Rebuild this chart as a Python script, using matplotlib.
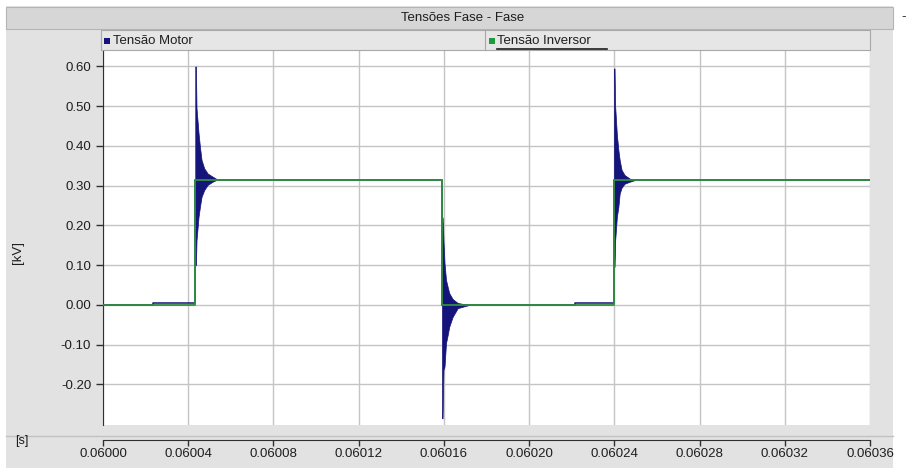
import numpy as np
import matplotlib.pyplot as plt
from matplotlib.patches import Rectangle
from matplotlib.lines import Line2D

# ---- data ----
# inverter voltage, piecewise constant [s], [kV]
inv_t = [0.06000, 0.0600433, 0.0601591, 0.0602398, 0.06036]
inv_v = [0.0, 0.314, 0.0, 0.314, 0.314]

# motor voltage, steady part
mot_t = [0.06000, 0.0600235, 0.0600433, 0.0601591, 0.0602215, 0.0602398, 0.06036]
mot_v = [0.0, 0.004, 0.314, 0.0, 0.004, 0.314, 0.314]

# ringing envelopes after each switching (offset in microseconds, upper, lower)
ring1_us = [0, 0.3, 0.6, 1.55, 2.2, 2.95, 4.2, 5.8, 8.1, 9.7]
ring1_up = [0.60, 0.60, 0.495, 0.432, 0.398, 0.365, 0.344, 0.331, 0.323, 0.318]
ring1_lo = [0.10, 0.10, 0.163, 0.222, 0.247, 0.272, 0.289, 0.302, 0.310, 0.314]

ring2_us = [0, 0.3, 0.7, 1.2, 1.9, 2.7, 3.4, 5.0, 7.4, 12.7]
ring2_up = [0.22, 0.22, 0.16, 0.105, 0.063, 0.045, 0.030, 0.015, 0.005, 0.0]
ring2_lo = [-0.285, -0.285, -0.163, -0.155, -0.096, -0.075, -0.055, -0.030, -0.008, 0.0]

ring3_us = [0, 0.3, 0.6, 1.4, 2.1, 2.7, 3.6, 5.0, 7.4, 9.7]
ring3_up = [0.595, 0.595, 0.499, 0.428, 0.390, 0.365, 0.340, 0.327, 0.318, 0.314]
ring3_lo = [0.096, 0.096, 0.163, 0.222, 0.247, 0.280, 0.295, 0.305, 0.310, 0.314]

switch_t = [inv_t[1], inv_t[2], inv_t[3]]

x_ticks = [0.06000 + 0.00004 * i for i in range(10)]
y_ticks = [-0.20, -0.10, 0.00, 0.10, 0.20, 0.30, 0.40, 0.50, 0.60]

# ---- style ----
plt.rcParams['font.family'] = ['Liberation Sans', 'DejaVu Sans']
W, H = 907, 471
BLUE = '#14147a'
GREEN = '#2f8f3f'
PANEL = '#e2e2e2'
TXT = '#1e1e1e'


def fx(x):
    return x / W


def fy(y):
    return 1 - y / H


fig = plt.figure(figsize=(W / 100, H / 100), dpi=100)
fig.patch.set_facecolor('white')

# background panel, title bar, legend bar
fig.add_artist(Rectangle((fx(6), fy(468)), fx(893 - 6), (468 - 6) / H,
                         transform=fig.transFigure, facecolor=PANEL, edgecolor='none', zorder=0))
fig.add_artist(Rectangle((fx(6), fy(29)), fx(893 - 6), 22 / H,
                         transform=fig.transFigure, facecolor='#d6d6d6', edgecolor='#b4b4b4', lw=0.8, zorder=1))
fig.text(fx(463), fy(18), 'Tensões Fase - Fase', ha='center', va='center', fontsize=9.5, color=TXT)
fig.text(fx(904), fy(17), '-', ha='center', va='center', fontsize=9.5, color=TXT)

fig.add_artist(Rectangle((fx(101), fy(50)), fx(870 - 101), 20 / H,
                         transform=fig.transFigure, facecolor='#e6e6e6', edgecolor='#a8a8a8', lw=0.8, zorder=1))
fig.add_artist(Line2D([fx(485), fx(485)], [fy(50), fy(30)], transform=fig.transFigure,
                      color='#a8a8a8', lw=0.8, zorder=2))
fig.add_artist(Rectangle((fx(104), fy(44)), 6 / W, 6 / H, transform=fig.transFigure,
                         facecolor=BLUE, edgecolor='none', zorder=2))
fig.text(fx(113), fy(41), 'Tensão Motor', ha='left', va='center', fontsize=9.5, color=TXT)
fig.add_artist(Rectangle((fx(489), fy(44)), 6 / W, 6 / H, transform=fig.transFigure,
                         facecolor='#1e9b3c', edgecolor='none', zorder=2))
fig.text(fx(497), fy(41), 'Tensão Inversor', ha='left', va='center', fontsize=9.5, color=TXT)
fig.add_artist(Line2D([fx(497), fx(607)], [fy(48.5), fy(48.5)], transform=fig.transFigure,
                      color=TXT, lw=1.2, zorder=2))

# separator above x axis
fig.add_artist(Line2D([fx(6), fx(893)], [fy(436), fy(436)], transform=fig.transFigure,
                      color='#c2c2c2', lw=1.0, zorder=1))

# ---- plot ----
ax = fig.add_axes([fx(103), fy(425), fx(870 - 103), (425 - 50) / H])
ax.set_facecolor('white')

ax.step(mot_t, mot_v, where='post', color=BLUE, lw=1.1, zorder=3)
rings = [(ring1_us, ring1_up, ring1_lo), (ring2_us, ring2_up, ring2_lo), (ring3_us, ring3_up, ring3_lo)]
for t0, (us, up, lo) in zip(switch_t, rings):
    tt = t0 + np.array(us) * 1e-6
    ax.fill_between(tt, lo, up, color=BLUE, lw=0.5, edgecolor=BLUE, zorder=3)
ax.step(inv_t, inv_v, where='post', color=GREEN, lw=1.3, zorder=4)

ax.set_xlim(0.06000, 0.06036)
ax.set_ylim(-0.302, 0.6415)
ax.set_xticks(x_ticks)
ax.set_xticklabels(['%.5f' % v for v in x_ticks])
ax.set_yticks(y_ticks)
ax.set_yticklabels(['%.2f' % v for v in y_ticks])
ax.grid(True, color='#c4c4c4', lw=1.0)
ax.set_axisbelow(True)

for s in ['top', 'right']:
    ax.spines[s].set_visible(False)
ax.spines['left'].set_color('#303030')
ax.spines['bottom'].set_color('#303030')
ax.spines['bottom'].set_position(('outward', 11))
ax.tick_params(axis='both', colors='#303030', labelcolor=TXT, labelsize=9.5, length=5, width=1)
ax.tick_params(axis='x', pad=1.5, length=4)

fig.text(fx(22), fy(441), '[s]', ha='center', va='center', fontsize=9, color=TXT)
fig.text(fx(18), fy(253), '[kV]', ha='center', va='center', fontsize=9.5, color=TXT, rotation=90)

fig.savefig('out.png', dpi=100, facecolor=fig.get_facecolor())
